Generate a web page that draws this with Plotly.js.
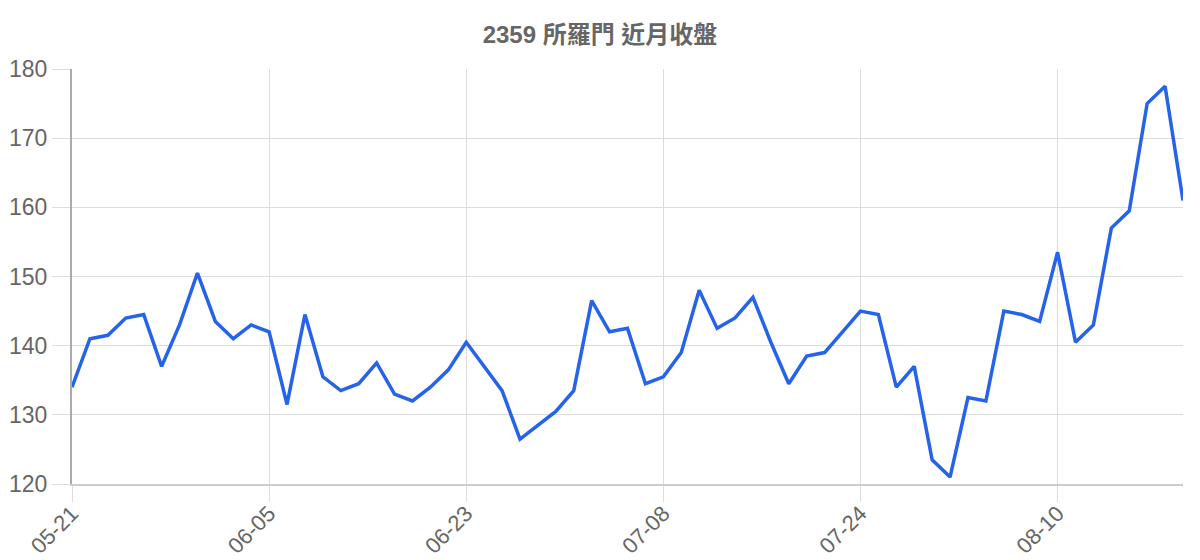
<!DOCTYPE html>
<html>
<head>
<meta charset="utf-8">
<script src="https://cdn.plot.ly/plotly-3.0.1.min.js"></script>
<style>
  html, body { margin: 0; padding: 0; background: #fff; }
  #chart { width: 1200px; height: 560px; }
</style>
</head>
<body>
<div id="chart"></div>
<script>
    // Trading days shown on the chart
    const dates = [
        '05-21', '05-22', '05-23', '05-24', '05-27', '05-28', '05-29', '05-30', '05-31', '06-03',
        '06-04', '06-05', '06-06', '06-07', '06-11', '06-12', '06-13', '06-14', '06-17', '06-18',
        '06-19', '06-20', '06-23', '06-24', '06-25', '06-26', '06-27', '06-28', '07-01', '07-02',
        '07-03', '07-04', '07-07', '07-08', '07-09', '07-10', '07-11', '07-14', '07-15', '07-16',
        '07-17', '07-18', '07-21', '07-22', '07-24', '07-25', '07-28', '07-29', '07-30', '07-31',
        '08-01', '08-04', '08-05', '08-06', '08-07', '08-10', '08-11', '08-12', '08-13', '08-14',
        '08-15', '08-18', '08-19'
    ];

    // Closing prices
    const closes = [
        134, 141, 141.5, 144, 144.5, 137, 143, 150.5, 143.5, 141,
        143, 142, 131.5, 144.5, 135.5, 133.5, 134.5, 137.5, 133, 132,
        134, 136.5, 140.5, 137, 133.5, 126.5, 128.5, 130.5, 133.5, 146.5,
        142, 142.5, 134.5, 135.5, 139, 148, 142.5, 144, 147, 140.5,
        134.5, 138.5, 139, 142, 145, 144.5, 134, 137, 123.5, 121,
        132.5, 132, 145, 144.5, 143.5, 153.5, 140.5, 143, 157, 159.5,
        175, 177.5, 161
    ];

    // Labelled ticks on the x axis
    const tickDates = ['05-21', '06-05', '06-23', '07-08', '07-24', '08-10'];
    const yTicks = [120, 130, 140, 150, 160, 170, 180];

    const trace = {
        x: dates,
        y: closes,
        type: 'scatter',
        mode: 'lines',
        line: { color: '#2563eb', width: 3.5 },
        hoverinfo: 'x+y'
    };

    const layout = {
        width: 1200,
        height: 560,
        margin: { l: 72, r: 17, t: 69, b: 76 },
        paper_bgcolor: '#fff',
        plot_bgcolor: '#fff',
        showlegend: false,
        font: { family: '"Liberation Sans", Arial, sans-serif', color: '#666' },
        title: {
            text: '<b>2359 所羅門 近月收盤</b>',
            font: { family: '"Liberation Sans", "Noto Sans CJK TC", sans-serif', size: 24, color: '#666' },
            x: 0.5,
            xanchor: 'center',
            y: 1 - 35 / 560,
            yanchor: 'middle'
        },
        xaxis: {
            type: 'category',
            range: [0, dates.length - 1],
            tickmode: 'array',
            tickvals: tickDates,
            ticktext: tickDates,
            tickangle: -45,
            tickfont: { size: 22, color: '#666' },
            ticks: 'outside',
            ticklen: 16,
            ticklabelstandoff: -10,
            tickcolor: '#ddd',
            showgrid: true,
            gridcolor: '#dcdcdc',
            gridwidth: 1.2,
            showline: true,
            linecolor: '#ccc',
            linewidth: 2,
            zeroline: false,
            fixedrange: true
        },
        yaxis: {
            range: [120, 180],
            tickmode: 'array',
            tickvals: yTicks,
            tickfont: { size: 23, color: '#666' },
            ticks: 'outside',
            ticklen: 18,
            tickcolor: '#ddd',
            showgrid: true,
            gridcolor: '#dcdcdc',
            gridwidth: 1.2,
            showline: true,
            linecolor: '#aaa',
            linewidth: 2,
            zeroline: false,
            fixedrange: true
        }
    };

    Plotly.newPlot('chart', [trace], layout, { displayModeBar: false, staticPlot: true });
</script>
</body>
</html>
